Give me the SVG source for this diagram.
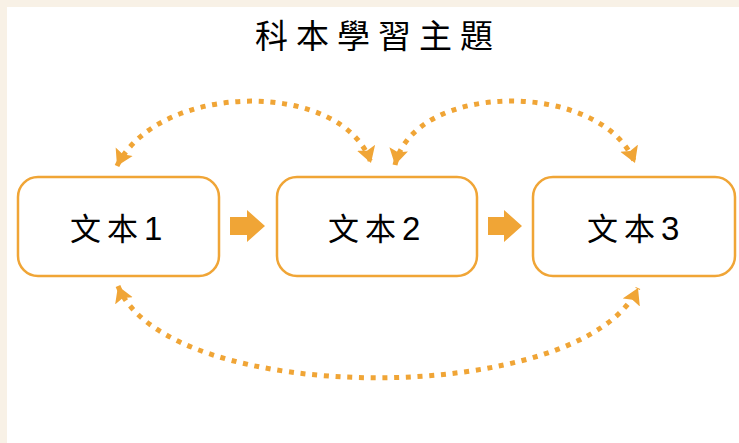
<svg xmlns="http://www.w3.org/2000/svg" width="739" height="443" viewBox="0 0 739 443">
<style>
.box{fill:#ffffff;stroke:#F0A536;stroke-width:2.5}
.lbl{font-family:"Noto Sans CJK TC","Noto Sans CJK SC",sans-serif;font-size:31px;fill:#000;letter-spacing:6px;font-weight:400}
.num{font-family:"Liberation Sans","Noto Sans",sans-serif;font-size:33px;font-weight:400}
.title{font-family:"Noto Sans CJK TC","Noto Sans CJK SC",sans-serif;font-size:33px;fill:#000;letter-spacing:8px;font-weight:400}
.dot{fill:none;stroke:#F0A536;stroke-width:5;stroke-dasharray:5 6.7}
.blk{fill:#F0A536}
</style>
<defs>
<marker id="ah" viewBox="0 -10 17 20" refX="16" refY="0" markerWidth="17" markerHeight="20" markerUnits="userSpaceOnUse" orient="auto-start-reverse">
<path d="M0,-9.5 L16,0 L0,9.5 L3,0 Z" fill="#F0A536"/>
</marker>
</defs>
<rect x="0" y="0" width="739" height="443" fill="#ffffff"/>
<rect x="0" y="0" width="739" height="7" fill="#F8F1E6"/>
<rect x="0" y="0" width="7" height="443" fill="#F8F1E6"/>
<text class="title" x="255" y="48">科本學習主題</text>
<g id="connectors">
<path class="dot" d="M117,166 C160,80 344,80 371,163" marker-start="url(#ah)" marker-end="url(#ah)"/>
<path class="dot" d="M395,165 C415,80 602,80 635,163" marker-start="url(#ah)" marker-end="url(#ah)"/>
<path class="dot" d="M118,286 C167,408 582,408 638,288" marker-start="url(#ah)" marker-end="url(#ah)"/>
<polygon class="blk" points="230,217 247,217 247,210 265,226 247,242 247,235 230,235"/>
<polygon class="blk" points="488,217 504,217 504,210 522,226 504,242 504,235 488,235"/>
</g>
<g id="node1">
<rect class="box" x="18" y="177" width="201" height="99" rx="20"/>
<text class="lbl" x="70" y="240">文本<tspan class="num">1</tspan></text>
</g>
<g id="node2">
<rect class="box" x="277" y="177" width="200" height="99" rx="20"/>
<text class="lbl" x="328" y="240">文本<tspan class="num">2</tspan></text>
</g>
<g id="node3">
<rect class="box" x="533" y="177" width="202" height="99" rx="20"/>
<text class="lbl" x="587" y="240">文本<tspan class="num">3</tspan></text>
</g>
</svg>
